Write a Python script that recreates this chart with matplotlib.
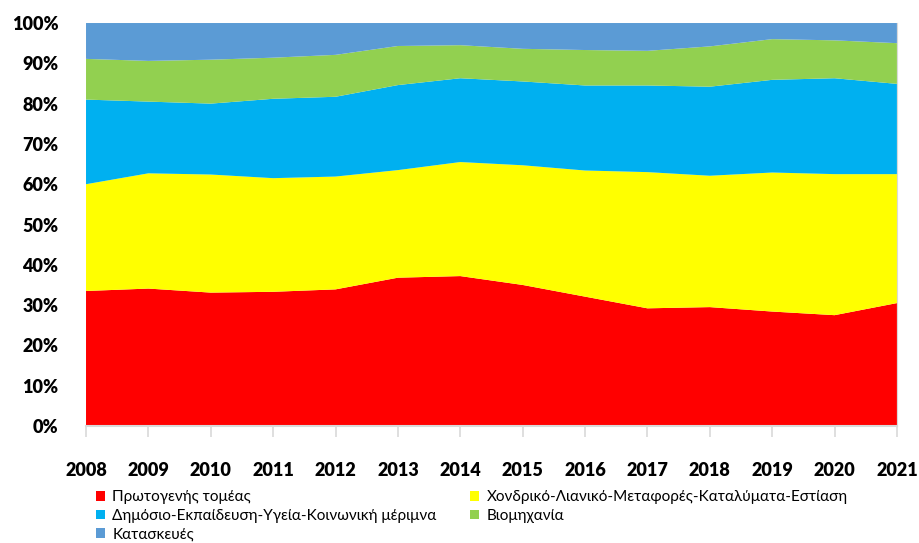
"""Employment share by sector, Greece 2008-2021 (100% stacked area)."""

import matplotlib.pyplot as plt
import numpy as np
from matplotlib.patches import Patch
from matplotlib.ticker import PercentFormatter

years = list(range(2008, 2022))

primary = [33.5, 34.1, 33.1, 33.3, 33.9, 36.8, 37.2, 35.0, 32.1, 29.2, 29.5, 28.4, 27.5, 30.5]
trade = [26.5, 28.6, 29.3, 28.2, 28.0, 26.7, 28.3, 29.7, 31.3, 33.8, 32.6, 34.5, 35.0, 32.0]
public = [21.0, 17.8, 17.6, 19.7, 19.8, 21.1, 20.8, 20.8, 21.1, 21.5, 22.1, 23.0, 23.8, 22.4]
industry = [10.1, 10.1, 10.9, 10.2, 10.4, 9.7, 8.2, 8.1, 8.8, 8.6, 10.0, 10.1, 9.4, 10.1]
construction = [8.9, 9.4, 9.1, 8.6, 7.9, 5.7, 5.5, 6.4, 6.7, 6.9, 5.8, 4.0, 4.3, 5.0]

labels = [
    "Πρωτογενής τομέας",
    "Χονδρικό-Λιανικό-Μεταφορές-Καταλύματα-Εστίαση",
    "Δημόσιο-Εκπαίδευση-Υγεία-Κοινωνική μέριμνα",
    "Βιομηχανία",
    "Κατασκευές",
]
colors = ["#ff0000", "#ffff00", "#00b0f0", "#92d050", "#5b9bd5"]

plt.rcParams["font.family"] = ["Lato", "Open Sans", "DejaVu Sans"]

series = np.array([primary, trade, public, industry, construction])
shares = series / series.sum(axis=0) * 100

fig = plt.figure(figsize=(9.19, 5.43), dpi=100)
ax = fig.add_axes([0.0936, 0.2155, 0.8824, 0.7421])

ax.stackplot(years, shares, colors=colors, linewidth=0)

ax.set_xlim(years[0], years[-1])
ax.set_ylim(0, 100)
ax.set_yticks(np.arange(0, 101, 10))
ax.yaxis.set_major_formatter(PercentFormatter(decimals=0))
ax.set_xticks(years)

ax.tick_params(axis="y", length=0, pad=20, labelsize=13)
ax.tick_params(axis="x", length=8, width=1.2, color="#d9d9d9", pad=18, labelsize=13)
for label in ax.get_xticklabels() + ax.get_yticklabels():
    label.set_fontweight("heavy")

for side in ("top", "left"):
    ax.spines[side].set_visible(False)
ax.spines["bottom"].set_color("#d9d9d9")
ax.spines["bottom"].set_linewidth(1.5)
ax.spines["right"].set_color("#d9d9d9")

# legend reads row by row in the original; matplotlib fills columns first
order = [0, 2, 4, 1, 3]
handles = [Patch(facecolor=colors[i], edgecolor="none") for i in order]
fig.legend(
    handles,
    [labels[i] for i in order],
    ncol=2,
    loc="upper left",
    bbox_to_anchor=(0.104, 0.097),
    frameon=False,
    fontsize=11,
    handlelength=0.6,
    handleheight=0.6,
    handletextpad=0.5,
    columnspacing=2.2,
    labelspacing=0.3,
    borderaxespad=0,
    borderpad=0,
)

fig.savefig("out.png", dpi=100)
